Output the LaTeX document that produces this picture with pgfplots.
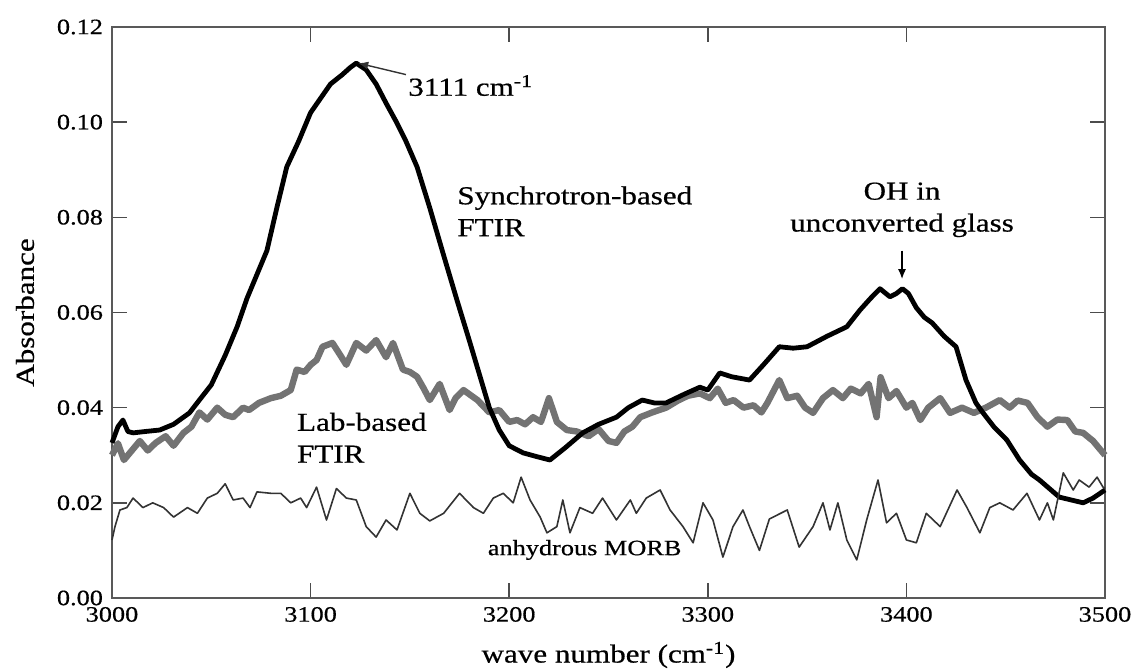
\documentclass[border=0pt]{standalone}
\usepackage{fontspec}
\setmainfont{Liberation Serif}[FakeStretch=1.2,FakeBold=0.6]
\usepackage{pgfplots}
\pgfplotsset{compat=1.18}
\usetikzlibrary{arrows.meta}

\pgfplotstableread{
x y
3000 0.0326
3003 0.036
3005.5 0.0374
3008 0.035
3010.6 0.0347
3017 0.0350
3024 0.0353
3031 0.0365
3039 0.0389
3044 0.0416
3050 0.0448
3057 0.051
3063 0.057
3068 0.063
3073 0.068
3078 0.073
3083 0.082
3088 0.0906
3094 0.096
3100 0.102
3105 0.105
3110 0.108
3116 0.110
3120 0.1115
3123 0.1124
3128 0.111
3133 0.108
3138 0.104
3143.5 0.0998
3148 0.096
3153.6 0.0906
3160 0.082
3167 0.072
3173.7 0.0626
3180 0.054
3185 0.047
3190 0.040
3195 0.0353
3200 0.032
3207 0.0305
3214 0.0297
3220.5 0.029
3228 0.0315
3237 0.0347
3245 0.0365
3254 0.038
3260 0.040
3267 0.0416
3273 0.041
3279 0.041
3288 0.0428
3296 0.0443
3300 0.0437
3306 0.0473
3312 0.0465
3321 0.0458
3328 0.049
3336 0.0528
3343 0.0525
3350 0.0528
3360 0.055
3370 0.057
3376.6 0.0605
3382 0.063
3386.7 0.065
3391.7 0.0633
3395 0.064
3398 0.065
3401 0.064
3405 0.061
3409 0.059
3413 0.0578
3419 0.055
3425 0.0528
3430 0.0458
3435 0.041
3438.6 0.0389
3444 0.036
3450.6 0.0332
3457 0.0290
3463 0.026
3467 0.0248
3472 0.023
3477 0.0212
3483 0.0206
3489 0.020
3494 0.021
3500 0.0227
}\synchro

\pgfplotstableread{
x y
3000 0.030
3003 0.0325
3006 0.029
3010 0.031
3014 0.033
3018 0.031
3022 0.0326
3027 0.034
3031 0.032
3036 0.0347
3040 0.036
3044 0.039
3048 0.0375
3053 0.040
3057 0.0385
3061 0.038
3066 0.040
3069 0.0395
3074 0.041
3080 0.042
3085 0.0425
3090 0.0437
3093 0.048
3097 0.0475
3100 0.049
3103 0.050
3106 0.0528
3111 0.0536
3115 0.051
3118 0.049
3123 0.0536
3128 0.052
3133 0.0542
3138 0.0506
3141.5 0.0536
3146.5 0.048
3150 0.0475
3153.6 0.0465
3157 0.044
3160 0.0416
3165 0.045
3170 0.0395
3173 0.042
3177 0.0437
3184 0.0416
3190 0.039
3195 0.0395
3200 0.037
3204 0.0374
3208 0.0365
3212 0.038
3216 0.037
3220 0.042
3224 0.037
3229 0.0353
3234 0.035
3240 0.034
3245 0.0355
3250 0.033
3254 0.0326
3258 0.035
3262 0.036
3266 0.038
3272 0.039
3279 0.040
3285 0.0415
3290 0.0425
3296 0.043
3301 0.042
3305 0.044
3309 0.041
3313 0.0416
3318 0.040
3323 0.0405
3327 0.039
3330 0.041
3336 0.0458
3340 0.042
3345 0.0425
3349 0.040
3353 0.0389
3358 0.042
3363 0.0437
3368 0.042
3372 0.044
3377 0.043
3381 0.045
3385 0.038
3387 0.0464
3391 0.042
3395 0.0435
3400 0.040
3403 0.041
3407 0.0374
3411 0.040
3417 0.042
3422 0.0389
3428 0.040
3434 0.0389
3440 0.040
3447 0.0416
3452 0.040
3456 0.0415
3461 0.041
3466 0.038
3471 0.036
3476 0.0375
3481 0.0374
3485 0.035
3489 0.0347
3494 0.033
3499 0.0305
3500 0.030
}\lab

\pgfplotstableread{
x y
3000 0.0122
3001.5 0.015
3004 0.0185
3007.5 0.019
3010.6 0.021
3015.6 0.019
3020.5 0.020
3026 0.019
3031 0.017
3038 0.019
3043 0.0178
3048 0.021
3053 0.022
3057 0.024
3061 0.0206
3066 0.021
3069.5 0.019
3073 0.0223
3080 0.022
3085 0.022
3090 0.020
3095 0.021
3098 0.019
3103 0.0233
3108 0.0164
3113 0.023
3118 0.021
3123 0.0206
3128 0.015
3133 0.0128
3138 0.0164
3143.5 0.0143
3150 0.022
3155 0.0178
3160 0.0162
3167 0.0178
3175 0.022
3182 0.019
3187 0.0178
3192 0.021
3197 0.022
3202 0.020
3206 0.0254
3210.5 0.0206
3215.6 0.017
3219 0.0137
3224 0.015
3227 0.0206
3230.6 0.0137
3235.6 0.019
3242 0.0178
3247 0.021
3254 0.0164
3261 0.0206
3264 0.0178
3269 0.021
3276 0.0227
3281 0.0185
3287.5 0.015
3292.6 0.0116
3297.6 0.020
3302.6 0.0164
3307.6 0.0086
3312.7 0.015
3317.7 0.0185
3321 0.015
3326 0.010
3331 0.0166
3340 0.0185
3346 0.0107
3353 0.015
3358 0.020
3361.5 0.0143
3365.5 0.020
3370 0.0122
3375 0.008
3380 0.0164
3385.7 0.0248
3390 0.0158
3395 0.0178
3400 0.0122
3405 0.0116
3410 0.0178
3417 0.015
3425.5 0.0227
3430.5 0.019
3437 0.0137
3442 0.019
3447 0.020
3453.7 0.0185
3460.7 0.022
3467 0.0164
3471 0.020
3474 0.0164
3479 0.0263
3484 0.0227
3487 0.0248
3492 0.0233
3496 0.0254
3499 0.0233
3500 0.023
}\morb

\begin{document}
\begin{tikzpicture}
\begin{axis}[
  scale only axis,
  width=496.5bp, height=285.5bp,
  xmin=3000, xmax=3500, ymin=0, ymax=0.12,
  xtick={3000,3100,...,3500},
  ytick={0,0.02,...,0.12},
  scaled y ticks=false,
  xticklabel style={/pgf/number format/1000 sep={}},
  yticklabel style={/pgf/number format/.cd, fixed, fixed zerofill, precision=2},
  /pgf/number format/assume math mode=true,
  tick label style={font=\fontsize{11}{13}\selectfont},
  label style={font=\fontsize{13}{15}\selectfont},
  major tick length=7.5bp,
  every tick/.style={draw=black!70, line width=0.8bp},
  axis line style={draw=black!65, line width=1.3bp},
  xticklabel shift=1bp,
  yticklabel shift=1bp,
  xlabel={wave number (cm\textsuperscript{-1})},
  ylabel={Absorbance},
  xlabel style={at={(axis description cs:0.5,-0.0998)}, anchor=center},
  ylabel style={at={(axis description cs:-0.0876,0.5)}, anchor=center},
  clip=false,
]
\coordinate (SW) at (rel axis cs:0,0);
\coordinate (NE) at (rel axis cs:1,1);
\addplot[draw=black!55, line width=3.2bp, line join=round] table[x=x,y=y] {\lab};
\addplot[draw=black, line width=2.4bp, line join=round] table[x=x,y=y] {\synchro};
\addplot[draw=black!80, line width=0.8bp, line join=round] table[x=x,y=y] {\morb};

\draw[black!80, line width=0.7bp, -{Latex[length=5bp,width=4bp]}] (axis cs:3148,0.1100) -- (axis cs:3124,0.1124);
\node[anchor=west, inner sep=0pt, font=\fontsize{13}{15}\selectfont] at (axis cs:3149,0.1077) {3111 cm\textsuperscript{-1}};
\node[anchor=north west, inner sep=0pt, align=left, font=\fontsize{13}{16}\selectfont] at (axis cs:3173.7,0.0866) {Synchrotron-based\\FTIR};
\node[anchor=north west, inner sep=0pt, align=left, font=\fontsize{13}{16}\selectfont] at (axis cs:3093,0.0390) {Lab-based\\FTIR};
\node[anchor=north, inner sep=0pt, align=center, font=\fontsize{13}{16}\selectfont] at (axis cs:3397.8,0.0874) {OH in\\unconverted glass};
\draw[black, line width=0.8bp, -{Latex[length=5bp,width=4bp]}] (axis cs:3397.8,0.0730) -- (axis cs:3397.8,0.0670);
\node[anchor=center, inner sep=0pt, font=\fontsize{11}{13}\selectfont] at (axis cs:3238,0.0101) {anhydrous MORB};
\end{axis}
\pgfresetboundingbox
\path[use as bounding box] ([shift={(-56bp,-36.5bp)}]SW) rectangle ([shift={(15bp,13.5bp)}]NE);
\end{tikzpicture}
\end{document}
